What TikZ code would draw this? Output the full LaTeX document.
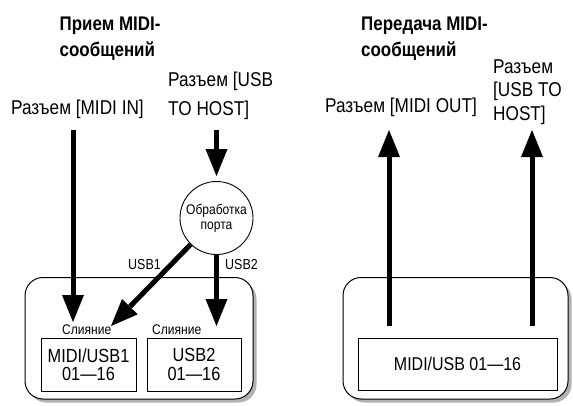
\documentclass[tikz,border=0pt]{standalone}
\usepackage{fontspec}
\setmainfont[FakeStretch=0.86]{Liberation Sans}
\usetikzlibrary{arrows.meta,shadows}
\begin{document}
\begin{tikzpicture}[x=1pt,y=-1pt,
  lbl/.style={font=\fontsize{20}{24}\selectfont, inner sep=0pt, anchor=base west},
  ttl/.style={font=\bfseries\fontsize{19.7}{24}\selectfont, inner sep=0pt, anchor=base west},
  sml/.style={font=\fontsize{14}{16}\selectfont, inner sep=0pt, anchor=base west},
  bigarrow/.style={line width=5pt, -{Triangle[length=27pt,width=22pt,line width=0pt]}},
  panel/.style={draw, line width=1pt, rounded corners=18pt, fill=white,
    drop shadow={shadow xshift=3.5pt, shadow yshift=-3.5pt, fill=gray!60, opacity=1}},
  chbox/.style={draw, line width=0.9pt, fill=white, inner sep=0pt, align=center},
]
\useasboundingbox (0,0) rectangle (573,405);

% panels
\node[panel, minimum width=228pt, minimum height=121.5pt] (lpanel) at (139,338.25) {};
\node[panel, minimum width=225pt, minimum height=121.5pt] (rpanel) at (455.5,338.25) {};

% titles
\node[ttl] (t1a) at (59.5,30.7) {Прием MIDI-};
\node[ttl] (t1b) at (59.5,56.7) {сообщений};
\node[ttl] (t2a) at (361,30.7) {Передача MIDI-};
\node[ttl] (t2b) at (361,56.7) {сообщений};

% source labels
\node[lbl] (midiin) at (11,114.5) {Разъем [MIDI IN]};
\node[lbl] (usbA) at (168,86.5) {Разъем [USB};
\node[lbl] (usbB) at (168,115) {TO HOST]};
\node[lbl] (midiout) at (325,112.5) {Разъем [MIDI OUT]};
\node[lbl] (usbC) at (493,73) {Разъем};
\node[lbl] (usbD) at (493,96.5) {[USB TO};
\node[lbl] (usbE) at (493,120) {HOST]};

% port circle
\node[draw, circle, line width=0.9pt, minimum size=73pt, inner sep=0pt, align=center,
      font=\fontsize{14}{15}\selectfont, fill=white] (port) at (216.5,218) {Обработка\\порта};

% channel boxes
\node[chbox, minimum width=95pt, minimum height=53pt, font=\fontsize{19}{18.5}\selectfont] (b1) at (88.5,364.5) {MIDI/USB1\\01—16};
\node[chbox, minimum width=94pt, minimum height=53pt, font=\fontsize{19}{18.5}\selectfont] (b2) at (194,364.5) {USB2\\01—16};
\node[chbox, minimum width=199pt, minimum height=52pt, font=\fontsize{18.6}{20}\selectfont] (b3) at (457.5,364) {MIDI/USB 01—16};

% merge labels
\node[sml] (m1lbl) at (62,334) {Слияние};
\node[sml] (m2lbl) at (152,334) {Слияние};
\node[sml, font=\fontsize{14.5}{16}\selectfont] (u1) at (128,269) {USB1};
\node[sml, font=\fontsize{14.5}{16}\selectfont] (u2) at (225,269) {USB2};

% arrow end points
\coordinate (inS) at (73,130);
\coordinate (inT) at (73,322);
\coordinate (usbS) at (216.5,130);
\coordinate (m1) at (111,326);
\coordinate (m2) at (216.5,326);
\coordinate (o1S) at (389,326);
\coordinate (o1T) at (389,130);
\coordinate (o2S) at (532,326);
\coordinate (o2T) at (532,130);

% arrows
\draw[bigarrow] (inS) -- (inT);
\draw[bigarrow, shorten >=5pt] (usbS) -- (port);
\draw[bigarrow] (port) -- (m1);
\draw[bigarrow] (port) -- (m2);
\draw[bigarrow] (o1S) -- (o1T);
\draw[bigarrow] (o2S) -- (o2T);
\end{tikzpicture}
\end{document}
